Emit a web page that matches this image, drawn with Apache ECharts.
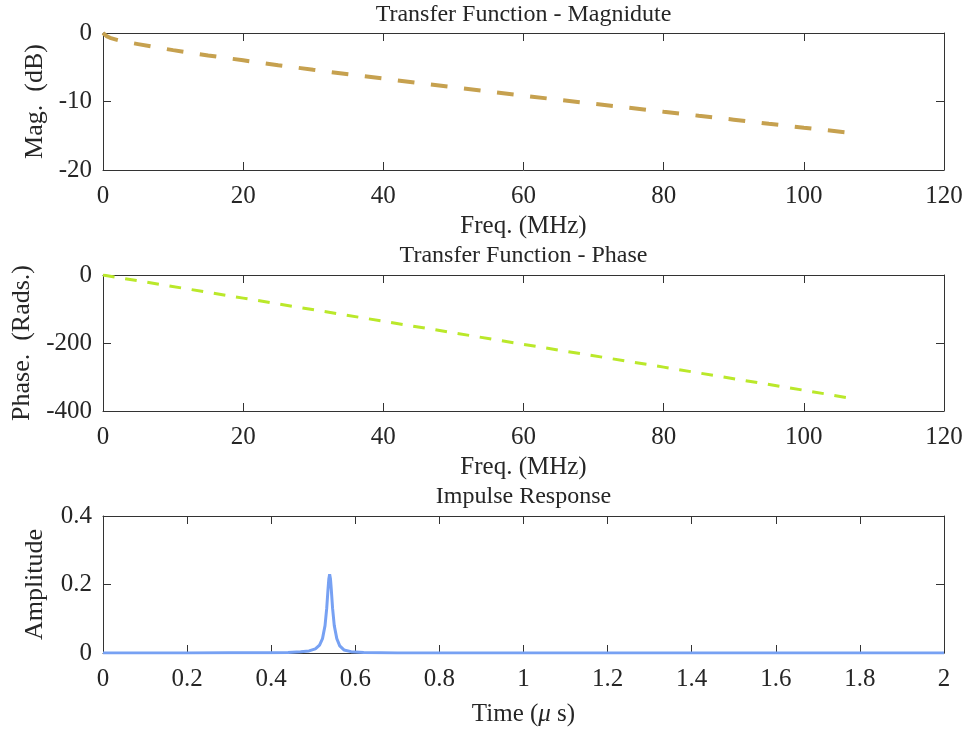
<!DOCTYPE html>
<html>
<head>
<meta charset="utf-8">
<script src="https://cdn.jsdelivr.net/npm/echarts@6/dist/echarts.min.js"></script>
<style>html,body{margin:0;padding:0;background:#fff;}#c{width:969px;height:731px;}</style>
</head>
<body>
<div id="c"></div>
<script>
// Magnitude (dB) vs frequency (MHz)
var magFreq = [0, 0.5, 1, 2, 3, 5, 7.5, 10, 15, 20, 25, 30, 35, 40, 45, 50, 55, 60, 65, 70, 75, 80, 85, 90, 95, 100, 106];
var magDb   = [0, -0.45, -0.7, -1.0, -1.25, -1.62, -2.08, -2.5, -3.28, -3.99, -4.70, -5.37, -6.03, -6.65, -7.30, -7.92, -8.53, -9.14, -9.75, -10.33, -10.91, -11.50, -12.08, -12.65, -13.25, -13.82, -14.5];
// Phase (rad) vs frequency (MHz)
var phaseFreq = [0, 20, 40, 60, 80, 100, 106];
var phaseRad  = [0, -68, -136, -204, -271, -339, -360];
// Impulse response: time (us) and amplitude
var impT   = [0, 0.1, 0.2, 0.3, 0.4, 0.44, 0.47, 0.49, 0.505, 0.515, 0.522, 0.528, 0.532, 0.535, 0.537, 0.539, 0.541, 0.543, 0.546, 0.550, 0.556, 0.563, 0.573, 0.59, 0.62, 0.7, 0.8, 1.0, 1.5, 2.0];
var impAmp = [0, 0, 0.0002, 0.0004, 0.0008, 0.0015, 0.0035, 0.006, 0.012, 0.023, 0.042, 0.080, 0.130, 0.184, 0.216, 0.230, 0.216, 0.184, 0.130, 0.080, 0.042, 0.021, 0.009, 0.004, 0.0012, 0.0003, 0.0001, 0, 0, 0];
// Ticks
var freqTicks = {min: 0, max: 120, interval: 20};
var magTicks = {min: -20, max: 0, interval: 10};
var phaseTicks = {min: -400, max: 0, interval: 200};
var timeTicks = {min: 0, max: 2, interval: 0.2};
var ampTicks = {min: 0, max: 0.4, interval: 0.2};
var titles = ['Transfer Function - Magnidute', 'Transfer Function - Phase', 'Impulse Response'];

var FONT = 'Liberation Serif';
var TXT = '#262626';
var AX = '#333333';

function pairs(xs, ys) { return xs.map(function (x, i) { return [x, ys[i]]; }); }

var grids = [
  {left: 103, top: 33, width: 841, height: 137},
  {left: 103, top: 275, width: 841, height: 136},
  {left: 103, top: 516, width: 841, height: 137}
];

function xAx(gi, t, pos, name, nameGap) {
  var main = pos === 'bottom';
  return {
    type: 'value', gridIndex: gi, position: pos, min: t.min, max: t.max, interval: t.interval,
    axisLine: {show: true, onZero: false, lineStyle: {color: AX, width: 1}},
    axisTick: {show: true, inside: true, length: 8, lineStyle: {color: AX, width: 1}},
    axisLabel: {show: main, margin: 14, fontFamily: FONT, fontSize: 25, color: TXT, showMinLabel: true, showMaxLabel: true},
    splitLine: {show: false},
    name: main ? name : '', nameLocation: 'middle', nameGap: nameGap,
    nameTextStyle: {fontFamily: FONT, fontSize: 25, color: TXT,
      rich: {mu: {fontFamily: FONT, fontSize: 25, fontStyle: 'italic', color: TXT}}}
  };
}
function yAx(gi, t, pos, name, nameGap) {
  var main = pos === 'left';
  return {
    type: 'value', gridIndex: gi, position: pos, min: t.min, max: t.max, interval: t.interval,
    axisLine: {show: true, onZero: false, lineStyle: {color: AX, width: 1}},
    axisTick: {show: true, inside: true, length: 8, lineStyle: {color: AX, width: 1}},
    axisLabel: {show: main, margin: 11, fontFamily: FONT, fontSize: 25, color: TXT, showMinLabel: true, showMaxLabel: true, padding: [5, 0, 0, 0]},
    splitLine: {show: false},
    name: main ? name : '', nameLocation: 'middle', nameGap: nameGap, nameRotate: 90,
    nameTextStyle: {fontFamily: FONT, fontSize: 26, color: TXT}
  };
}

var option = {
  backgroundColor: '#ffffff',
  animation: false,
  grid: grids,
  xAxis: [
    xAx(0, freqTicks, 'bottom', 'Freq. (MHz)', 44), xAx(0, freqTicks, 'top', '', 0),
    xAx(1, freqTicks, 'bottom', 'Freq. (MHz)', 44), xAx(1, freqTicks, 'top', '', 0),
    xAx(2, timeTicks, 'bottom', 'Time ({mu|μ} s)', 49), xAx(2, timeTicks, 'top', '', 0)
  ],
  yAxis: [
    yAx(0, magTicks, 'left', 'Mag.  (dB)', 55), yAx(0, magTicks, 'right', '', 0),
    yAx(1, phaseTicks, 'left', 'Phase.  (Rads.)', 68), yAx(1, phaseTicks, 'right', '', 0),
    yAx(2, ampTicks, 'left', 'Amplitude', 55), yAx(2, ampTicks, 'right', '', 0)
  ],
  graphic: [
    {type: 'text', x: 523.5, y: 15, style: {text: titles[0], font: '24px "' + FONT + '"', fill: TXT, textAlign: 'center', textVerticalAlign: 'middle'}},
    {type: 'text', x: 523.5, y: 256, style: {text: titles[1], font: '24px "' + FONT + '"', fill: TXT, textAlign: 'center', textVerticalAlign: 'middle'}},
    {type: 'text', x: 523.5, y: 497, style: {text: titles[2], font: '24px "' + FONT + '"', fill: TXT, textAlign: 'center', textVerticalAlign: 'middle'}}
  ],
  series: [
    {type: 'line', xAxisIndex: 0, yAxisIndex: 0, data: pairs(magFreq, magDb), showSymbol: false, symbol: 'none', smooth: false,
      lineStyle: {color: '#C6A14F', width: 4, type: [16.7, 16.6]}, z: 3},
    {type: 'line', xAxisIndex: 2, yAxisIndex: 2, data: pairs(phaseFreq, phaseRad), showSymbol: false, symbol: 'none',
      lineStyle: {color: '#BAE82A', width: 3, type: [11.7, 10.76]}, z: 3},
    {type: 'line', xAxisIndex: 4, yAxisIndex: 4, data: pairs(impT, impAmp), showSymbol: false, symbol: 'none',
      lineStyle: {color: '#77A1F3', width: 3}, z: 3, clip: true}
  ]
};
var chart = echarts.init(document.getElementById('c'), null, {renderer: 'canvas'});
chart.setOption(option);
</script>
</body>
</html>
